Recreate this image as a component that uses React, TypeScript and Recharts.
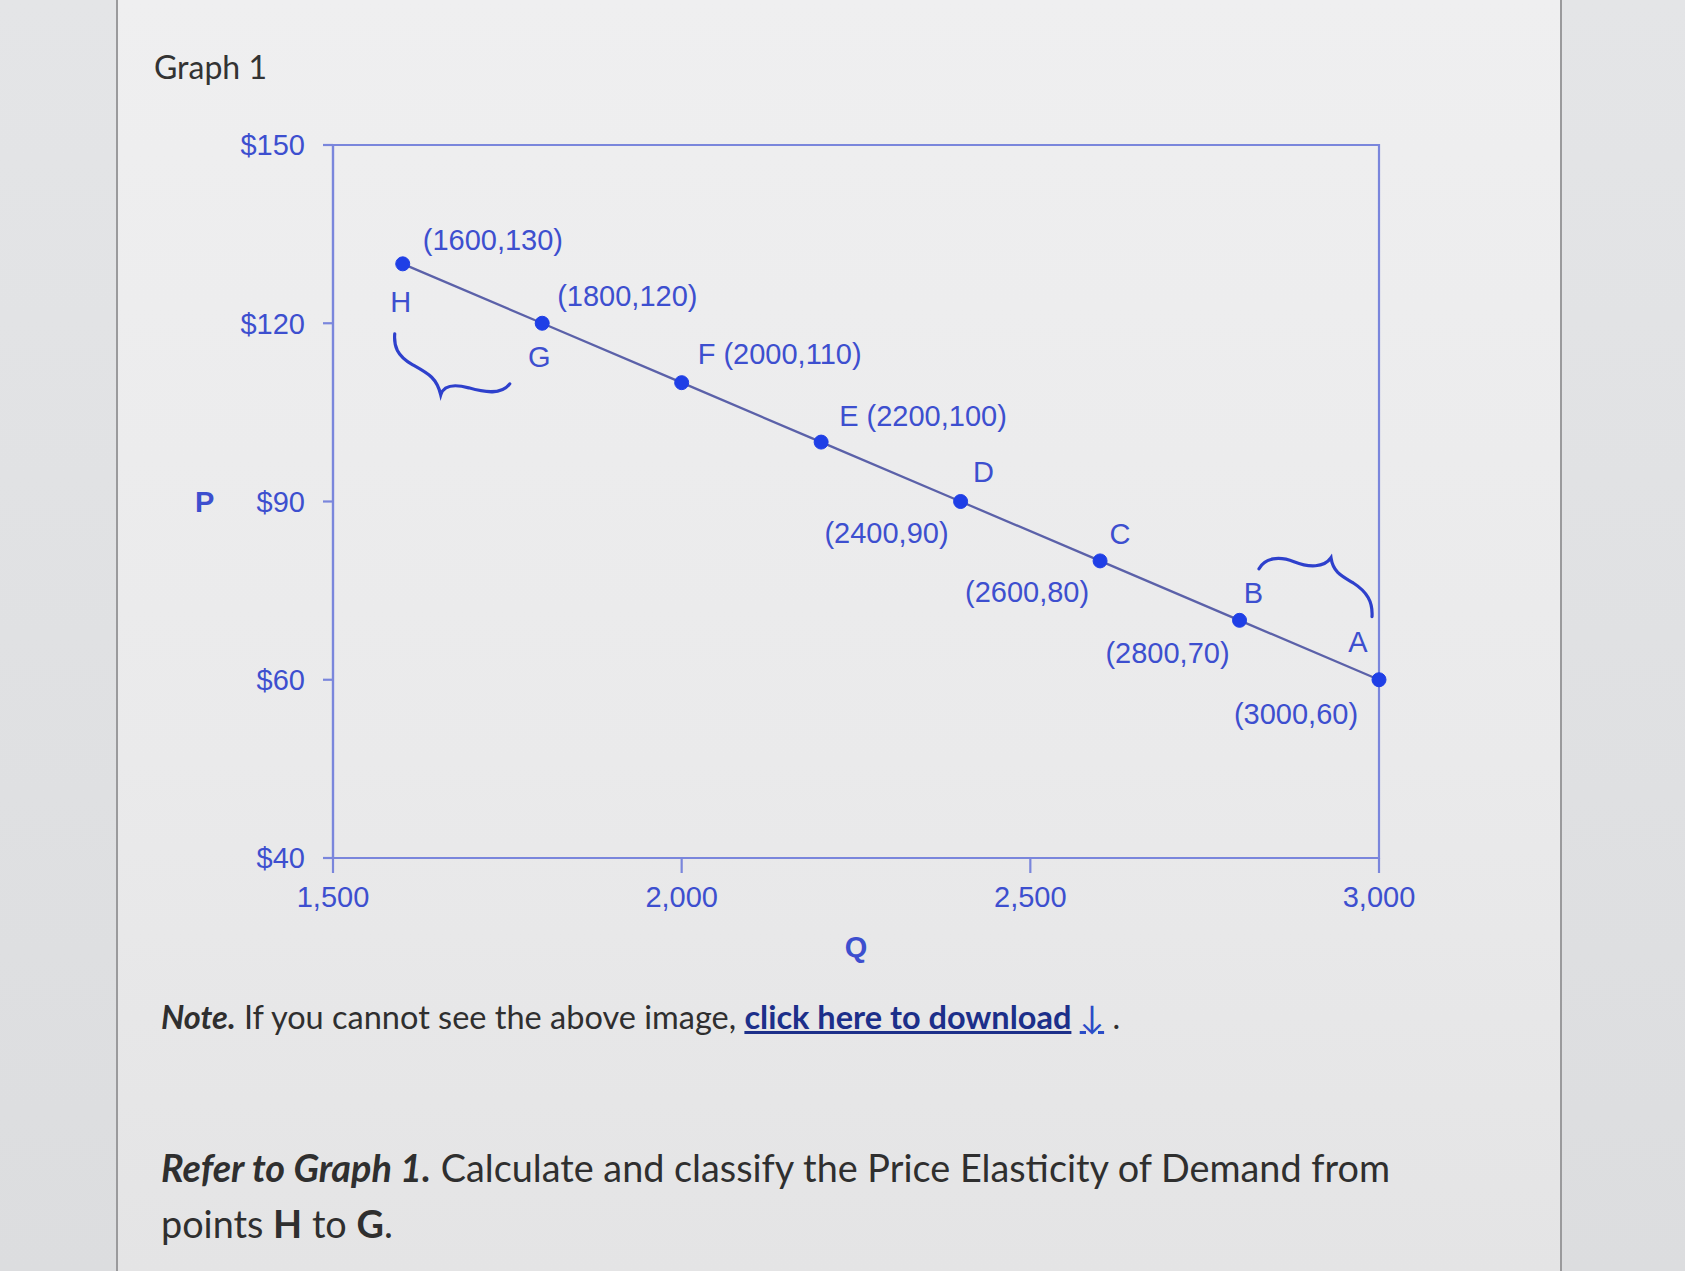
import { ComposedChart, Line, XAxis, YAxis, ReferenceArea } from "recharts";

// demand schedule points H..A
const pointNames = ["H", "G", "F", "E", "D", "C", "B", "A"];
const quantities = [1600, 1800, 2000, 2200, 2400, 2600, 2800, 3000];
const prices = [130, 120, 110, 100, 90, 80, 70, 60];

const qTicks = [1500, 2000, 2500, 3000];
const qTickLabels = ["1,500", "2,000", "2,500", "3,000"];
const pTicks = [30, 60, 90, 120, 150];
const pTickLabels = ["$40", "$60", "$90", "$120", "$150"];

const data = quantities.map((q, i) => ({ name: pointNames[i], qty: q, price: prices[i] }));

const BLUE_TEXT = "#3d4fcf";
const AXIS = "#7a86dc";
const LABEL_FONT = "'Liberation Sans', Arial, Helvetica, sans-serif";
const PAGE_FONT = "Lato, 'Open Sans', sans-serif";

// where each point's letter / coordinate text sits relative to the dot
type Spot = {
  letter?: [number, number];
  coord?: [number, number, "start" | "middle" | "end"];
  joined?: [number, number];
};
const labelSpots: Spot[] = [
  { letter: [-2, 38], coord: [20, -24, "start"] },
  { letter: [-3, 34], coord: [15, -27, "start"] },
  { joined: [16, -29] },
  { joined: [18, -26] },
  { letter: [23, -30], coord: [-12, 31, "end"] },
  { letter: [20, -27], coord: [-73, 31, "middle"] },
  { letter: [14, -27], coord: [-72, 33, "middle"] },
  { letter: [-21, -38], coord: [-83, 34, "middle"] },
];

// hand-drawn braces hanging off H and A
const braceAtH = "M -8 70 C -9 82, -6 92, 10 101 C 26 110, 34 114, 38 131 C 41 121, 51 120, 66 124 C 83 129, 99 131, 107 120";
const braceAtA = "M -120 -111 C -114 -122, -100 -124, -85 -118 C -70 -112, -55 -112, -48 -122 C -46 -108, -38 -104, -26 -97 C -12 -88, -6 -78, -7 -63";

const textProps = {
  fontFamily: LABEL_FONT,
  fontSize: 29,
  fill: BLUE_TEXT,
  dominantBaseline: "central" as const,
};

function PointLabel(props: any) {
  const { x, y, index } = props;
  if (x == null || y == null || index == null) return null;
  const spot = labelSpots[index];
  const name = pointNames[index];
  const coordText = `(${quantities[index]},${prices[index]})`;
  return (
    <g>
      {spot.letter && (
        <text x={x + spot.letter[0]} y={y + spot.letter[1]} textAnchor="middle" {...textProps}>
          {name}
        </text>
      )}
      {spot.coord && (
        <text x={x + spot.coord[0]} y={y + spot.coord[1]} textAnchor={spot.coord[2]} {...textProps}>
          {coordText}
        </text>
      )}
      {spot.joined && (
        <text x={x + spot.joined[0]} y={y + spot.joined[1]} textAnchor="start" {...textProps}>
          {`${name} ${coordText}`}
        </text>
      )}
      {index === 0 && (
        <path d={braceAtH} transform={`translate(${x},${y})`} fill="none" stroke="#2e40cc" strokeWidth={3.2} strokeLinecap="round" />
      )}
      {index === pointNames.length - 1 && (
        <path d={braceAtA} transform={`translate(${x},${y})`} fill="none" stroke="#2e40cc" strokeWidth={3.2} strokeLinecap="round" />
      )}
    </g>
  );
}

function DemandChart() {
  const tickStyle = { fontFamily: LABEL_FONT, fontSize: 29, fill: BLUE_TEXT };
  return (
    <ComposedChart
      width={1685}
      height={1000}
      data={data}
      margin={{ top: 145, left: 193, right: 306, bottom: 32 }}
    >
      <ReferenceArea
        x1={1500}
        x2={3000}
        y1={30}
        y2={150}
        fill="none"
        stroke={AXIS}
        strokeWidth={2.2}
        ifOverflow="visible"
      />
      <XAxis
        type="number"
        dataKey="qty"
        domain={[1500, 3000]}
        ticks={qTicks}
        tickFormatter={(v: number) => qTickLabels[qTicks.indexOf(v)]}
        height={110}
        tickSize={15}
        tickMargin={13}
        tick={tickStyle}
        axisLine={{ stroke: AXIS, strokeWidth: 2.2 }}
        tickLine={{ stroke: AXIS, strokeWidth: 2.2 }}
        label={{
          value: "Q",
          position: "insideBottom",
          offset: 11,
          style: { fontFamily: LABEL_FONT, fontSize: 29, fontWeight: 700, fill: BLUE_TEXT },
        }}
      />
      <YAxis
        type="number"
        dataKey="price"
        domain={[30, 150]}
        ticks={pTicks}
        tickFormatter={(v: number) => pTickLabels[pTicks.indexOf(v)]}
        width={140}
        tickSize={10}
        tickMargin={18}
        tick={tickStyle}
        axisLine={{ stroke: AXIS, strokeWidth: 2.2 }}
        tickLine={{ stroke: AXIS, strokeWidth: 2.2 }}
        label={{
          value: "P",
          position: "insideLeft",
          offset: 2,
          style: { fontFamily: LABEL_FONT, fontSize: 29, fontWeight: 700, fill: BLUE_TEXT },
        }}
      />
      <Line
        type="linear"
        dataKey="price"
        stroke="#5b61a9"
        strokeWidth={2.3}
        dot={{ r: 7, fill: "#1f3fe6", stroke: "#1f3fe6", strokeWidth: 1 }}
        activeDot={false}
        label={<PointLabel />}
        isAnimationActive={false}
      />
    </ComposedChart>
  );
}

export default function App() {
  return (
    <div
      style={{
        position: "absolute",
        left: 0,
        top: 0,
        width: 1685,
        height: 1271,
        overflow: "hidden",
        background: "linear-gradient(180deg, #e4e5e7 0%, #dcdddf 100%)",
      }}
    >
      <div
        style={{
          position: "absolute",
          left: 116,
          top: 0,
          width: 1442,
          height: 1271,
          background: "linear-gradient(180deg, #efeff0 0%, #eaeaeb 60%, #e4e4e5 100%)",
          borderLeft: "2px solid #9a9a9c",
          borderRight: "2px solid #9a9a9c",
        }}
      />
      <div
        style={{
          position: "absolute",
          left: 154,
          top: 51,
          fontFamily: PAGE_FONT,
          fontSize: 32,
          lineHeight: 1,
          color: "#333",
        }}
      >
        Graph 1
      </div>
      <div style={{ position: "absolute", left: 0, top: 0 }}>
        <DemandChart />
      </div>
      <div
        style={{
          position: "absolute",
          left: 161,
          top: 1001,
          fontFamily: PAGE_FONT,
          fontSize: 32.5,
          lineHeight: 1,
          color: "#2f2f2f",
          whiteSpace: "nowrap",
        }}
      >
        <b>
          <i>Note.</i>
        </b>{" "}
        If you cannot see the above image,{" "}
        <span style={{ color: "#1c2f8a", fontWeight: 700, textDecoration: "underline" }}>
          click here to download
        </span>{" "}
        <span style={{ color: "#2a4cc7", textDecoration: "underline" }}>↓</span> .
      </div>
      <div
        style={{
          position: "absolute",
          left: 161,
          top: 1140,
          fontFamily: PAGE_FONT,
          fontSize: 37.8,
          lineHeight: "56px",
          color: "#2f2f2f",
          whiteSpace: "nowrap",
        }}
      >
        <b>
          <i>Refer to Graph 1.</i>
        </b>{" "}
        Calculate and classify the Price Elasticity of Demand from
        <br />
        points <b>H</b> to <b>G</b>.
      </div>
    </div>
  );
}
